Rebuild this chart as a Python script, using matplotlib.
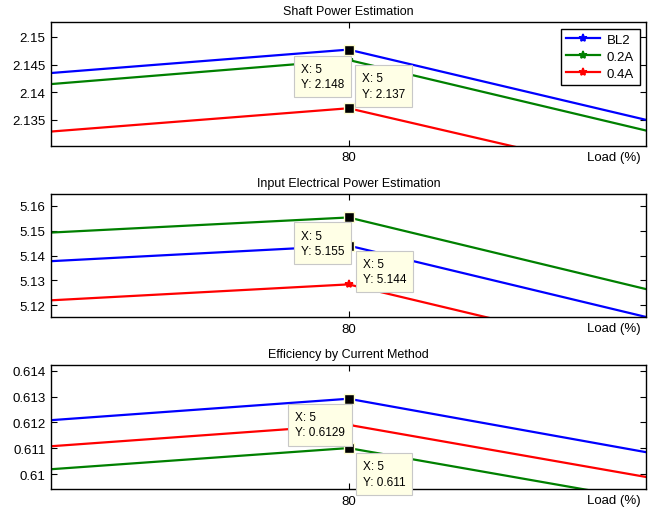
import numpy as np
import matplotlib.pyplot as plt

plt.rcParams["font.family"] = ["Liberation Sans", "DejaVu Sans"]

# -------------------------
# Data (x index, load label at x=5 is 80 %)
# -------------------------
x_pos = [4, 5, 6]
x_tick_pos = [5]
x_tick_labels = ["80"]
series_names = ["BL2", "0.2A", "0.4A"]

shaft_bl2 = [2.13924, 2.1477, 2.1223]
shaft_02a = [2.13711, 2.14583, 2.12031]
shaft_04a = [2.12868, 2.1371, 2.1122]

input_bl2 = [5.13146, 5.1440, 5.0866]
input_02a = [5.14316, 5.1553, 5.0977]
input_04a = [5.1156, 5.1284, 5.0714]

eff_bl2 = [0.61126, 0.61292, 0.60878]
eff_02a = [0.60937, 0.61101, 0.60697]
eff_04a = [0.61025, 0.61191, 0.60787]

titles = ["Shaft Power Estimation",
          "Input Electrical Power Estimation",
          "Efficiency by Current Method"]
ylims = [(2.1303, 2.1527), (5.1153, 5.1647), (0.60942, 0.61422)]
yticks = [[2.135, 2.14, 2.145, 2.15],
          [5.12, 5.13, 5.14, 5.15, 5.16],
          [0.61, 0.611, 0.612, 0.613, 0.614]]

# which series gets a datatip in each panel, and where its text sits (points)
tips = [[(0, (-34.5, -9.4)), (2, (9.4, 25.8))],
        [(1, (-34.5, -8.7)), (0, (10.2, -8.7))],
        [(0, (-38.8, -8.7)), (1, (10.2, -8.7))]]

colors = ["#0000ff", "#008000", "#ff0000"]

panels = [(shaft_bl2, shaft_02a, shaft_04a),
          (input_bl2, input_02a, input_04a),
          (eff_bl2, eff_02a, eff_04a)]

# -------------------------
# Figure
# -------------------------
fig = plt.figure(figsize=(6.62, 5.10), dpi=100)
rects = [[0.077, 0.712, 0.899, 0.243],
         [0.077, 0.3765, 0.899, 0.241],
         [0.077, 0.039, 0.899, 0.243]]

for i, rect in enumerate(rects):
    ax = fig.add_axes(rect)
    for vals, name, col in zip(panels[i], series_names, colors):
        ax.plot(x_pos, vals, "-*", color=col, lw=1.6, ms=6, mew=1.2, label=name)

    ax.set_xlim(4.5, 5.5)
    ax.set_ylim(*ylims[i])
    ax.set_yticks(yticks[i])
    ax.set_yticklabels(["%g" % v for v in yticks[i]])
    ax.set_xticks(x_tick_pos)
    ax.set_xticklabels(x_tick_labels)
    ax.tick_params(direction="in", length=4, width=0.8, labelsize=9.5,
                   top=True, right=True, pad=4)
    for sp in ax.spines.values():
        sp.set_linewidth(1.0)
    ax.set_title(titles[i], fontsize=9, pad=6)
    ax.text(0.99, -0.09, "Load (%)", transform=ax.transAxes,
            ha="right", va="center", fontsize=9.5)

    # datatips
    for k, off in tips[i]:
        yv = panels[i][k][1]
        ax.plot([5], [yv], "s", color="black", ms=7, mec="#ffffd0", mew=1.0,
                zorder=5)
        ax.annotate("X: 5\nY: %.4g" % yv, xy=(5, yv), xytext=off,
                    textcoords="offset points", ha="left", va="top",
                    fontsize=8.5, linespacing=1.4, zorder=6,
                    bbox=dict(boxstyle="square,pad=0.6", fc="#ffffe6",
                              ec="#c8c8c8", lw=0.8))

    if i == 0:
        leg = ax.legend(loc="upper right", fontsize=9.5, frameon=True,
                        fancybox=False, edgecolor="black", framealpha=1,
                        handlelength=2.6, borderaxespad=0.5,
                        labelspacing=0.35, handletextpad=0.5)
        leg.get_frame().set_linewidth(1.0)

fig.savefig("out.png", dpi=100)
